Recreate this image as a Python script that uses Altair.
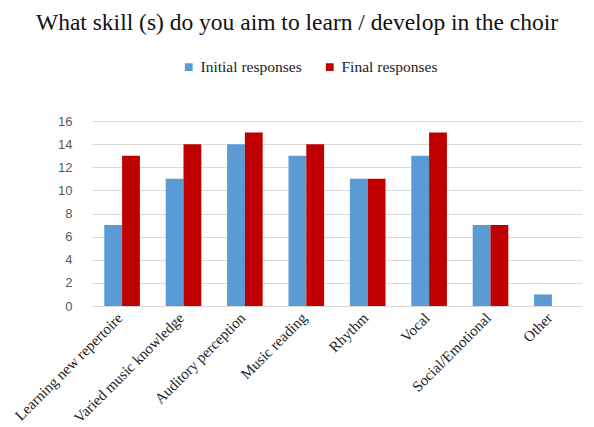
import altair as alt
import pandas as pd

categories = ["Learning new repertoire", "Varied music knowledge", "Auditory perception",
              "Music reading", "Rhythm", "Vocal", "Social/Emotional", "Other"]
initial = [7, 11, 14, 13, 11, 13, 7, 1]
final = [13, 14, 15, 14, 11, 15, 7, 0]
series = ["Initial responses", "Final responses"]
colors = ["#5B9BD5", "#C00000"]
title_text = ["What skill (s) do you aim to learn / develop in the choir"]

rows = []
for c, a, b in zip(categories, initial, final):
    rows.append({"skill": c, "series": series[0], "value": a})
    rows.append({"skill": c, "series": series[1], "value": b})
df = pd.DataFrame(rows)

bars = alt.Chart(df).mark_bar().encode(
    x=alt.X("skill:N", sort=categories, title=None,
            scale=alt.Scale(paddingInner=0.42, paddingOuter=0.2),
            axis=alt.Axis(labelAngle=-45, labelFont="Liberation Serif", labelFontSize=15,
                          labelColor="#222222", ticks=False, domain=False, labelPadding=4,
                          labelOffset=-7)),
    xOffset=alt.XOffset("series:N", sort=series),
    y=alt.Y("value:Q", title=None,
            scale=alt.Scale(domain=[0, 16]),
            axis=alt.Axis(values=list(range(0, 17, 2)), labelFont="Liberation Sans",
                          labelFontSize=13, labelColor="#595959", ticks=False, domain=False,
                          gridColor="#D9D9D9", labelPadding=20)),
    color=alt.Color("series:N", sort=series,
                    scale=alt.Scale(domain=series, range=colors),
                    legend=alt.Legend(title=None, orient="none", direction="horizontal",
                                      legendX=89, legendY=-62, symbolType="square",
                                      symbolSize=60, labelFont="Liberation Serif",
                                      labelFontSize=15.5, labelColor="#222222",
                                      columnPadding=20)),
)

title = alt.Chart(pd.DataFrame({"t": title_text})).mark_text(
    font="Liberation Serif", fontSize=23.5, color="#111111", align="center", baseline="middle"
).encode(
    text="t:N",
    x=alt.value(205),
    y=alt.value(-98),
)

chart = alt.layer(bars, title).properties(
    width=490, height=185,
    padding={"left": 92, "top": 121, "right": 12, "bottom": 121},
    autosize="none",
).configure_view(stroke=None)

chart.save("out.html", embed_options={"renderer": "svg", "actions": False})
